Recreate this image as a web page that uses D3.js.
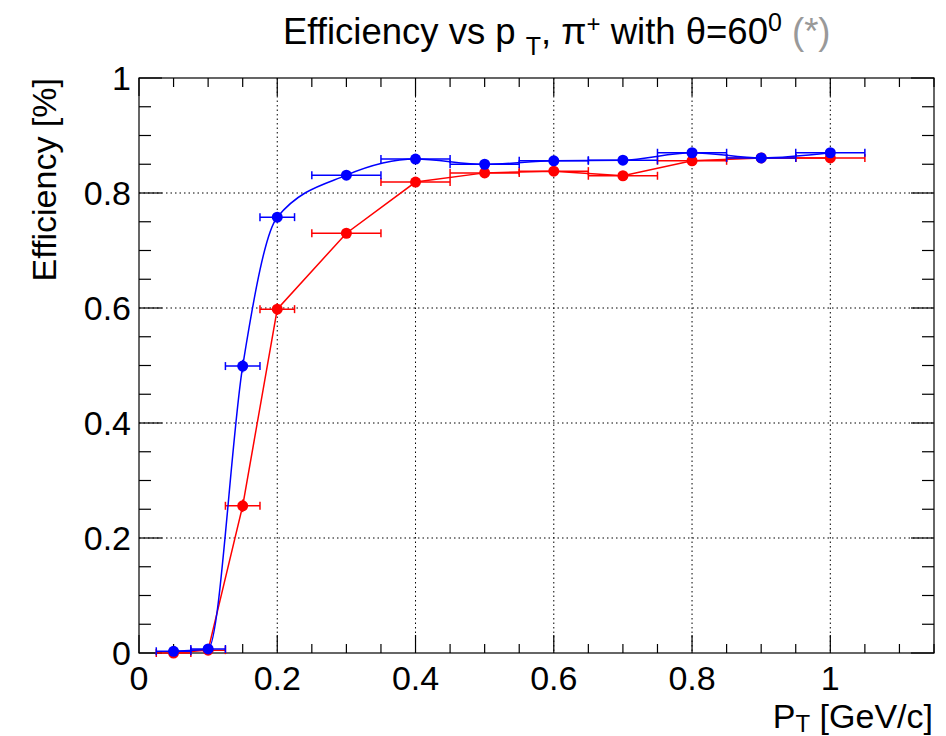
<!DOCTYPE html>
<html>
<head>
<meta charset="utf-8">
<script src="https://cdn.jsdelivr.net/npm/d3@7"></script>
<style>
  body { margin: 0; background: #fff; }
  svg { font-family: "Liberation Sans", Arial, sans-serif; }
</style>
</head>
<body>
<div id="chart"></div>
<script>
// data
var ptBins = [0.05, 0.1, 0.15, 0.2, 0.3, 0.4, 0.5, 0.6, 0.7, 0.8, 0.9, 1.0];
var ptErr = [0.025, 0.025, 0.025, 0.025, 0.05, 0.05, 0.05, 0.05, 0.05, 0.05, 0.05, 0.05];
var blueEff = [0.003, 0.007, 0.499, 0.758, 0.831, 0.859, 0.850, 0.856, 0.857, 0.870, 0.861, 0.870];
var blueErr = [0.006, 0.006, 0.011, 0.009, 0.006, 0.005, 0.005, 0.005, 0.005, 0.005, 0.005, 0.005];
var redEff = [0.0, 0.005, 0.256, 0.598, 0.730, 0.819, 0.835, 0.838, 0.830, 0.856, 0.861, 0.861];
var redErr = [0.006, 0.006, 0.011, 0.010, 0.007, 0.006, 0.005, 0.005, 0.005, 0.005, 0.005, 0.005];
var xTicks = [0, 0.2, 0.4, 0.6, 0.8, 1];
var yTicks = [0, 0.2, 0.4, 0.6, 0.8, 1];

var width = 946, height = 736;
// plot frame in pixels ("top" is taken by window.top)
var padL = 139, padR = 934, padT = 78, padB = 653;

var svg = d3.select("#chart").append("svg")
    .attr("width", width)
    .attr("height", height);

var x = d3.scaleLinear().domain([0, 1.15]).range([padL, padR]);
var y = d3.scaleLinear().domain([0, 1]).range([padB, padT]);

// dotted grid on the major ticks
var grid = svg.append("g").attr("stroke", "#000").attr("stroke-width", 1)
    .attr("stroke-dasharray", "1.5,3");
xTicks.filter(function(d) { return d > 0; }).forEach(function(d) {
  grid.append("line").attr("x1", x(d)).attr("x2", x(d)).attr("y1", padT).attr("y2", padB);
});
yTicks.filter(function(d) { return d > 0 && d < 1; }).forEach(function(d) {
  grid.append("line").attr("x1", padL).attr("x2", padR).attr("y1", y(d)).attr("y2", y(d));
});

// frame
svg.append("rect")
    .attr("x", padL).attr("y", padT)
    .attr("width", padR - padL).attr("height", padB - padT)
    .attr("fill", "none").attr("stroke", "#000").attr("stroke-width", 1.2);

// ticks (inside, mirrored on top and right)
var ticks = svg.append("g").attr("stroke", "#000").attr("stroke-width", 1.2);
d3.range(0, 24).forEach(function(i) {
  var v = i * 0.05, len = (i % 4 === 0) ? 18 : 9;
  ticks.append("line").attr("x1", x(v)).attr("x2", x(v)).attr("y1", padB).attr("y2", padB - len);
  ticks.append("line").attr("x1", x(v)).attr("x2", x(v)).attr("y1", padT).attr("y2", padT + len);
});
d3.range(0, 21).forEach(function(i) {
  var v = i * 0.05, len = (i % 4 === 0) ? 23 : 12;
  ticks.append("line").attr("x1", padL).attr("x2", padL + len).attr("y1", y(v)).attr("y2", y(v));
  ticks.append("line").attr("x1", padR).attr("x2", padR - len).attr("y1", y(v)).attr("y2", y(v));
});

// tick labels
svg.append("g").selectAll("text").data(xTicks).enter().append("text")
    .attr("x", function(d) { return x(d); })
    .attr("y", 690)
    .attr("text-anchor", "middle")
    .attr("font-size", 34)
    .text(function(d) { return d3.format("~g")(d); });
svg.append("g").selectAll("text").data(yTicks).enter().append("text")
    .attr("x", 131)
    .attr("y", function(d) { return y(d) + 12; })
    .attr("text-anchor", "end")
    .attr("font-size", 34)
    .text(function(d) { return d3.format("~g")(d); });

// axis titles
var xt = svg.append("text").attr("x", 933).attr("y", 728)
    .attr("text-anchor", "end").attr("font-size", 34);
xt.append("tspan").text("P");
xt.append("tspan").attr("dy", 4).attr("font-size", 24).text("T");
xt.append("tspan").attr("dy", -4).text(" [GeV/c]");

svg.append("text")
    .attr("transform", "translate(56," + padT + ") rotate(-90)")
    .attr("text-anchor", "end")
    .attr("font-size", 34)
    .text("Efficiency [%]");

// title
var title = svg.append("text").attr("x", 283).attr("y", 44).attr("font-size", 36.5);
title.append("tspan").text("Efficiency vs p ");
title.append("tspan").attr("dy", 11).attr("font-size", 25).text("T");
title.append("tspan").attr("dy", -11).text(", \u03c0");
title.append("tspan").attr("dy", -12).attr("font-size", 24).text("+");
title.append("tspan").attr("dy", 12).text(" with \u03b8=60");
title.append("tspan").attr("dy", -13).attr("font-size", 25).text("0");
title.append("tspan").attr("dy", 13).attr("fill", "#999").text(" (*)");

// series
function drawSeries(vals, errs, color, curve) {
  var g = svg.append("g");
  var pts = ptBins.map(function(d, i) { return [d, vals[i], ptErr[i], errs[i]]; });
  var line = d3.line()
      .x(function(d) { return x(d[0]); })
      .y(function(d) { return y(d[1]); })
      .curve(curve);
  g.append("path").datum(pts).attr("d", line)
      .attr("fill", "none").attr("stroke", color).attr("stroke-width", 1.5);
  var eb = g.append("g").attr("stroke", color).attr("stroke-width", 1.5);
  pts.forEach(function(d) {
    eb.append("line").attr("x1", x(d[0] - d[2])).attr("x2", x(d[0] + d[2]))
        .attr("y1", y(d[1])).attr("y2", y(d[1]));
    eb.append("line").attr("x1", x(d[0] - d[2])).attr("x2", x(d[0] - d[2]))
        .attr("y1", y(d[1]) - 4).attr("y2", y(d[1]) + 4);
    eb.append("line").attr("x1", x(d[0] + d[2])).attr("x2", x(d[0] + d[2]))
        .attr("y1", y(d[1]) - 4).attr("y2", y(d[1]) + 4);
    eb.append("line").attr("x1", x(d[0])).attr("x2", x(d[0]))
        .attr("y1", y(d[1] - d[3])).attr("y2", y(d[1] + d[3]));
  });
  g.selectAll("circle").data(pts).enter().append("circle")
      .attr("cx", function(d) { return x(d[0]); })
      .attr("cy", function(d) { return y(d[1]); })
      .attr("r", 5.5)
      .attr("fill", color);
}

drawSeries(redEff, redErr, "#ff0000", d3.curveLinear);
drawSeries(blueEff, blueErr, "#0000ff", d3.curveMonotoneX);
</script>
</body>
</html>
